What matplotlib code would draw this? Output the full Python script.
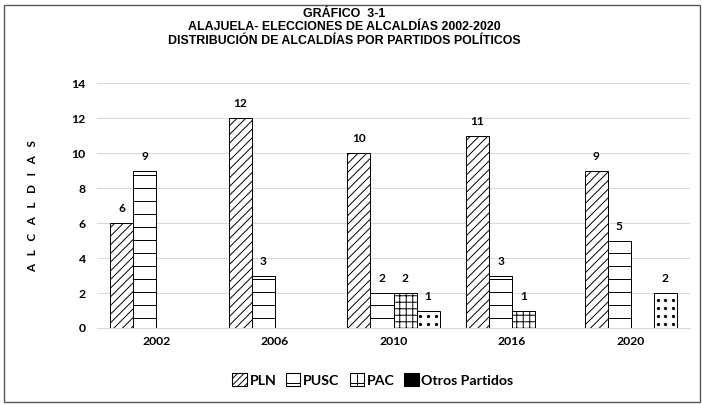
import numpy as np
import matplotlib
matplotlib.use('Agg')
import matplotlib.pyplot as plt
from matplotlib.patches import Patch, Rectangle

# datos
years = ['2002', '2006', '2010', '2016', '2020']
pln = [6, 12, 10, 11, 9]
pusc = [9, 3, 2, 3, 5]
pac = [0, 0, 2, 1, 0]
otros = [0, 0, 1, 0, 2]
series_names = ['PLN', 'PUSC', 'PAC', 'Otros Partidos']
yticks = [0, 2, 4, 6, 8, 10, 12, 14]

title = ('GRÁFICO  3-1\nALAJUELA- ELECCIONES DE ALCALDÍAS 2002-2020\n'
         'DISTRIBUCIÓN DE ALCALDÍAS POR PARTIDOS POLÍTICOS')

DPI = 78
plt.rcParams['hatch.linewidth'] = 0.9
lab_font = 'Lato'

fig = plt.figure(figsize=(702 / DPI, 404 / DPI), dpi=DPI)
ax = fig.add_axes([97 / 702, 1 - 328 / 404, 593 / 702, 245 / 404])

x = np.arange(len(years))
w = 0.194
hatches = ['///', '-', '++', '']
all_vals = [pln, pusc, pac, otros]

containers = []
for i, (vals, h) in enumerate(zip(all_vals, hatches)):
    bc = ax.bar(x + (i - 1.5) * w, vals, w, facecolor='white', edgecolor='black',
                linewidth=0.9, hatch=h, zorder=3)
    containers.append(bc)
    ax.bar_label(bc, labels=[str(v) if v else '' for v in vals], padding=8.2,
                 fontsize=11, fontweight='bold', family=lab_font, color='black')

# puntos para "Otros Partidos"
for rect, v in zip(containers[3], otros):
    if not v:
        continue
    x0, wd = rect.get_x(), rect.get_width()
    ys = np.arange(0.22, v, 0.46)
    for xx in (x0 + wd / 6, x0 + wd / 2, x0 + 5 * wd / 6):
        ax.scatter(np.full(len(ys), xx), ys, s=9, color='black', zorder=4, linewidths=0)

ax.set_xlim(-0.5, len(years) - 0.5)
ax.set_ylim(0, 14)
ax.set_yticks(yticks)
ax.set_xticks(x)
ax.set_xticklabels(years)
ax.tick_params(length=0)
ax.tick_params(axis='y', pad=10.4)
ax.tick_params(axis='x', pad=7.4)
for lbl in ax.get_xticklabels() + ax.get_yticklabels():
    lbl.set_fontsize(11.3)
    lbl.set_fontweight('bold')
    lbl.set_family(lab_font)
ax.grid(axis='y', color='#d9d9d9', linewidth=1.0, zorder=0)
ax.set_axisbelow(True)
for s in ['top', 'right', 'left']:
    ax.spines[s].set_visible(False)
ax.spines['bottom'].set_color('#d9d9d9')
ax.spines['bottom'].set_linewidth(1.0)

fig.text(33 / 702, 1 - 206 / 404, 'A   L   C   A   L   D   I   A   S', rotation=90, ha='center',
         va='center', fontsize=10.7, fontweight='bold', family=lab_font)

fig.text(344 / 702, 1 - 27.5 / 404, title, ha='center', va='center', fontsize=11.4,
         fontweight='bold', family='Liberation Sans', linespacing=1.18)

handles = [Patch(facecolor='white', edgecolor='black', hatch='////'),
           Patch(facecolor='white', edgecolor='black', hatch='-'),
           Patch(facecolor='white', edgecolor='black', hatch='+'),
           Patch(facecolor='black', edgecolor='black')]
leg = fig.legend(handles, series_names, loc='center', bbox_to_anchor=(373 / 702, 1 - 380 / 404),
                 ncol=4, frameon=False, handlelength=1.0, handleheight=1.0, handletextpad=0.2,
                 columnspacing=0.7, prop={'family': lab_font, 'weight': 'bold', 'size': 13.1})

fig.patches.append(Rectangle((4 / 702, 2 / 404), 696 / 702, 397 / 404, transform=fig.transFigure,
                             fill=False, edgecolor='#595959', linewidth=1.3))

fig.savefig('out.png', dpi=DPI)
